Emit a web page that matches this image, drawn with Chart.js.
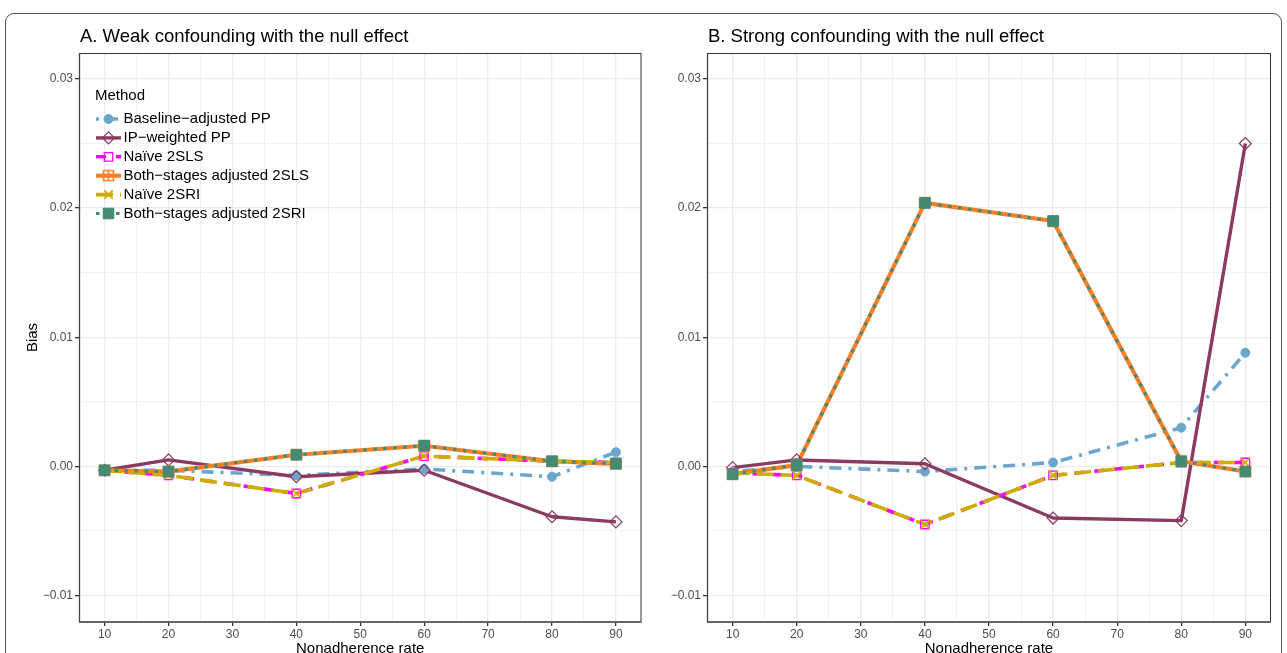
<!DOCTYPE html>
<html>
<head>
<meta charset="utf-8">
<script src="https://cdn.jsdelivr.net/npm/chart.js@4.4.0/dist/chart.umd.min.js"></script>
<style>
  body { margin: 0; background: #fff; width: 1287px; height: 653px; overflow: hidden; position: relative; }
  #frame { position: absolute; left: 5px; top: 13px; width: 1277px; height: 720px; border: 1.5px solid #555; border-radius: 9px; box-sizing: border-box; }
  .panel { position: absolute; top: 0; }
  #wrapA { left: 0; }
  #wrapB { left: 650px; }
</style>
</head>
<body>
<div id="frame"></div>
<div class="panel" id="wrapA"><canvas id="chartA" width="650" height="660"></canvas></div>
<div class="panel" id="wrapB"><canvas id="chartB" width="637" height="660"></canvas></div>
<script>
const FONT = '"Liberation Sans", Arial, Helvetica, sans-serif';

const rates = [10, 20, 40, 60, 80, 90];
const methods = ['Baseline−adjusted PP', 'IP−weighted PP', 'Naïve 2SLS', 'Both−stages adjusted 2SLS', 'Naïve 2SRI', 'Both−stages adjusted 2SRI'];

// A. weak confounding
const baselinePP_A = [-0.0003, -0.0003, -0.0007, -0.0002, -0.0008, 0.0011];
const ipPP_A       = [-0.0003, 0.0005, -0.0008, -0.0003, -0.0039, -0.0043];
const naive2SLS_A  = [-0.0003, -0.0007, -0.0021, 0.0008, 0.0004, 0.0003];
const both2SLS_A   = [-0.0003, -0.0004, 0.0009, 0.0016, 0.0004, 0.0002];
const naive2SRI_A  = [-0.0003, -0.0007, -0.0021, 0.0008, 0.0004, 0.0003];
const both2SRI_A   = [-0.0003, -0.0004, 0.0009, 0.0016, 0.0004, 0.0002];

// B. strong confounding
const baselinePP_B = [-0.0004, 0.0000, -0.0004, 0.0003, 0.0030, 0.0088];
const ipPP_B       = [-0.0001, 0.0005, 0.0002, -0.0040, -0.0042, 0.0250];
const naive2SLS_B  = [-0.0005, -0.0007, -0.0045, -0.0007, 0.0003, 0.0003];
const both2SLS_B   = [-0.0006, 0.0001, 0.0204, 0.0190, 0.0004, -0.0004];
const naive2SRI_B  = [-0.0005, -0.0007, -0.0045, -0.0007, 0.0003, 0.0003];
const both2SRI_B   = [-0.0006, 0.0001, 0.0204, 0.0190, 0.0004, -0.0004];

const xTicks = [10, 15, 20, 25, 30, 35, 40, 45, 50, 55, 60, 65, 70, 75, 80, 85, 90];
const xTickLabels = ['10', '', '20', '', '30', '', '40', '', '50', '', '60', '', '70', '', '80', '', '90'];
const yTicks = [-0.01, -0.005, 0, 0.005, 0.01, 0.015, 0.02, 0.025, 0.03];
const yTickLabels = ['−0.01', '', '0.00', '', '0.01', '', '0.02', '', '0.03'];

// look of each method
const lineColors = ['#6CA6CD', '#8B3A62', '#FF00FF', '#FF7F24', '#CDAD00', '#458B74'];
const lineDashes = [[3, 7, 12, 7], [], [10, 10], [], [17, 7], [3.5, 6.5]];
const lineWidths = [3.6, 3.4, 3.6, 4.2, 3.6, 3.2];

// square with a plus inside, for the adjusted 2SLS points
const squarePlus = document.createElement('canvas');
squarePlus.width = 13;
squarePlus.height = 13;
const sp = squarePlus.getContext('2d');
sp.strokeStyle = '#FF7F24';
sp.lineWidth = 1.5;
sp.strokeRect(1.5, 1.5, 10, 10);
sp.beginPath();
sp.moveTo(6.5, 1.5); sp.lineTo(6.5, 11.5);
sp.moveTo(1.5, 6.5); sp.lineTo(11.5, 6.5);
sp.stroke();

const markers = [
  { style: 'circle', radius: 4.5, fill: '#6CA6CD', border: 1 },
  { style: 'rectRot', radius: 6, fill: 'rgba(0,0,0,0)', border: 1.2 },
  { style: 'rect', radius: 6, fill: 'rgba(0,0,0,0)', border: 1.3 },
  { style: squarePlus, radius: 6, fill: 'rgba(0,0,0,0)', border: 1 },
  { style: 'crossRot', radius: 6, fill: 'rgba(0,0,0,0)', border: 1.6 },
  { style: 'rect', radius: 7.5, fill: '#458B74', border: 1 }
];

const panelTitle = {
  id: 'panelTitle',
  afterDraw(chart, args, opts) {
    const ctx = chart.ctx;
    ctx.save();
    ctx.fillStyle = '#000';
    ctx.font = '18.5px ' + FONT;
    ctx.textBaseline = 'middle';
    ctx.fillText(opts.text, chart.chartArea.left + 1, 37);
    ctx.restore();
  }
};

// panel border and axis lines on top of the data
const panelBorder = {
  id: 'panelBorder',
  afterDatasetsDraw(chart) {
    const { left, right, top, bottom } = chart.chartArea;
    const ctx = chart.ctx;
    ctx.save();
    ctx.strokeStyle = '#333';
    ctx.lineWidth = 1;
    ctx.strokeRect(left + 0.5, top + 0.5, right - left - 1, bottom - top - 1);
    ctx.strokeStyle = '#666';
    ctx.lineWidth = 2;
    ctx.beginPath();
    ctx.moveTo(left, bottom);
    ctx.lineTo(right, bottom);
    ctx.stroke();
    ctx.strokeStyle = '#444';
    ctx.lineWidth = 1.3;
    ctx.beginPath();
    ctx.moveTo(left + 0.5, top);
    ctx.lineTo(left + 0.5, bottom);
    ctx.stroke();
    ctx.restore();
  }
};

const methodLegend = {
  id: 'methodLegend',
  afterDraw(chart, args, opts) {
    if (!opts.show) return;
    const ctx = chart.ctx;
    ctx.save();
    ctx.fillStyle = '#000';
    ctx.font = '15px ' + FONT;
    ctx.textBaseline = 'middle';
    ctx.fillText('Method', 95, 96);
    methods.forEach((name, i) => {
      const y = 119 + i * 18.9;
      ctx.save();
      ctx.strokeStyle = lineColors[i];
      ctx.lineWidth = lineWidths[i];
      ctx.setLineDash(lineDashes[i]);
      ctx.beginPath();
      ctx.moveTo(96, y);
      ctx.lineTo(121, y);
      ctx.stroke();
      ctx.restore();
      const m = markers[i];
      ctx.save();
      ctx.strokeStyle = lineColors[i];
      ctx.fillStyle = m.fill;
      ctx.lineWidth = m.border;
      Chart.helpers.drawPoint(ctx, { pointStyle: m.style, radius: m.radius, rotation: 0, borderWidth: m.border }, 108.5, y);
      ctx.restore();
      ctx.fillStyle = '#000';
      ctx.fillText(name, 123.5, y);
    });
    ctx.restore();
  }
};

const makeChart = (canvas, title, series, yWidth, padRight, showYTitle, showLegend) => {
  const datasets = [];
  methods.forEach((name, i) => {
    const pts = rates.map((r, k) => ({ x: r, y: series[i][k] }));
    datasets.push({
      label: name,
      data: pts,
      borderColor: lineColors[i],
      borderWidth: lineWidths[i],
      borderDash: lineDashes[i],
      borderJoinStyle: 'round',
      pointRadius: 0,
      fill: false,
      tension: 0,
      order: 20 - i
    });
    datasets.push({
      label: name,
      data: pts,
      showLine: false,
      pointStyle: markers[i].style,
      pointRadius: markers[i].radius,
      pointBorderWidth: markers[i].border,
      pointBorderColor: lineColors[i],
      pointBackgroundColor: markers[i].fill,
      order: 10 - i
    });
  });

  return new Chart(canvas, {
    type: 'line',
    data: { datasets },
    plugins: [panelTitle, panelBorder, methodLegend],
    options: {
      responsive: false,
      animation: false,
      events: [],
      layout: { padding: { top: 53, right: padRight, left: 0, bottom: 0 } },
      plugins: {
        legend: { display: false },
        tooltip: { enabled: false },
        panelTitle: { text: title },
        methodLegend: { show: showLegend }
      },
      scales: {
        x: {
          type: 'linear',
          min: 6,
          max: 94,
          afterBuildTicks: s => { s.ticks = xTicks.map(v => ({ value: v })); },
          afterFit: s => { s.height = 38; },
          border: { display: false },
          grid: {
            color: '#ebebeb',
            lineWidth: ctx => (ctx.index % 2 === 0 ? 1.3 : 0.7),
            tickLength: 4,
            tickColor: ctx => (ctx.index % 2 === 0 ? '#333' : 'rgba(0,0,0,0)')
          },
          ticks: {
            autoSkip: false,
            maxRotation: 0,
            padding: 1,
            color: '#4d4d4d',
            font: { family: FONT, size: 12 },
            callback: (v, i) => xTickLabels[i]
          },
          title: {
            display: true,
            text: 'Nonadherence rate',
            color: '#000',
            font: { family: FONT, size: 15 },
            padding: { top: 0, bottom: 2 }
          }
        },
        y: {
          min: -0.01205,
          max: 0.03201,
          afterBuildTicks: s => { s.ticks = yTicks.map(v => ({ value: v })); },
          afterFit: s => { s.width = yWidth; },
          border: { display: false },
          grid: {
            color: '#ebebeb',
            lineWidth: ctx => (ctx.index % 2 === 0 ? 1.3 : 0.7),
            tickLength: 4,
            tickColor: ctx => (ctx.index % 2 === 0 ? '#333' : 'rgba(0,0,0,0)')
          },
          ticks: {
            autoSkip: false,
            padding: 2,
            color: '#4d4d4d',
            font: { family: FONT, size: 12 },
            callback: (v, i) => yTickLabels[i]
          },
          title: {
            display: showYTitle,
            text: 'Bias',
            color: '#000',
            font: { family: FONT, size: 15 },
            padding: { top: 24, bottom: 0 }
          }
        }
      }
    }
  });
};

makeChart(document.getElementById('chartA'), 'A. Weak confounding with the null effect',
  [baselinePP_A, ipPP_A, naive2SLS_A, both2SLS_A, naive2SRI_A, both2SRI_A], 79, 8, true, true);
makeChart(document.getElementById('chartB'), 'B. Strong confounding with the null effect',
  [baselinePP_B, ipPP_B, naive2SLS_B, both2SLS_B, naive2SRI_B, both2SRI_B], 57, 16, false, false);
</script>
</body>
</html>
